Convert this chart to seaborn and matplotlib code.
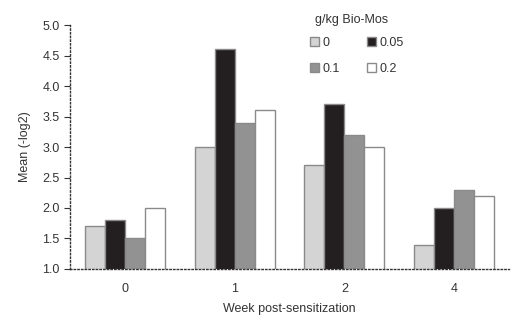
import matplotlib
matplotlib.use("Agg")
import matplotlib.pyplot as plt
import seaborn as sns
import pandas as pd

weeks = ["0", "1", "2", "4"]
doses = ["0", "0.05", "0.1", "0.2"]
vals_0 = [1.7, 3.0, 2.7, 1.4]
vals_005 = [1.8, 4.6, 3.7, 2.0]
vals_01 = [1.5, 3.4, 3.2, 2.3]
vals_02 = [2.0, 3.6, 3.0, 2.2]
colors = ["#d4d4d4", "#231f20", "#929292", "#ffffff"]

rows = []
for d, vs in zip(doses, [vals_0, vals_005, vals_01, vals_02]):
    for w, v in zip(weeks, vs):
        rows.append({"week": w, "dose": d, "value": v})
df = pd.DataFrame(rows)

sns.set_style("white")
plt.rcParams['font.family'] = ['Liberation Sans', 'DejaVu Sans']

fig = plt.figure(figsize=(5.2, 3.26), dpi=100)
ax = fig.add_axes([0.1346, 0.175, 0.8444, 0.748])
sns.barplot(data=df, x="week", y="value", hue="dose", hue_order=doses,
            palette=colors, width=0.73, edgecolor="#8a8a8a", linewidth=1.0,
            ax=ax, legend=True, saturation=1)

ax.set_ylim(1.0, 5.0)
ax.set_xlim(-0.5, 3.5)
ax.set_yticks([1.0, 1.5, 2.0, 2.5, 3.0, 3.5, 4.0, 4.5, 5.0])
ax.set_yticklabels([f"{t:.1f}" for t in [1.0, 1.5, 2.0, 2.5, 3.0, 3.5, 4.0, 4.5, 5.0]])
ax.set_xticks(range(4))
ax.set_xticklabels(weeks)
ax.set_xticks([-0.5, 0.5, 1.5, 2.5, 3.5], minor=True)
ax.tick_params(axis="x", which="major", length=0, pad=10, labelsize=9, colors="#333333")
ax.tick_params(axis="x", which="minor", length=4, width=0.8, direction="out", color="#333333")
ax.tick_params(axis="y", length=4, width=0.8, direction="out", labelsize=9, colors="#333333", left=True)
for s in ["top", "right"]:
    ax.spines[s].set_visible(False)
for s in ["left", "bottom"]:
    ax.spines[s].set_color("#333333")
    ax.spines[s].set_linewidth(1.0)
    ax.spines[s].set_linestyle(":")
ax.set_xlabel("Week post-sensitization", fontsize=9, color="#333333", labelpad=6)
ax.set_ylabel("Mean (-log2)", fontsize=9, color="#333333", labelpad=8)

handles, labels = ax.get_legend_handles_labels()
order = [0, 2, 1, 3]
ax.legend([handles[i] for i in order], [labels[i] for i in order],
          ncol=2, frameon=False, loc="upper left",
          bbox_to_anchor=(0.521, 0.997), fontsize=9,
          handlelength=0.7, handleheight=0.7, handletextpad=0.3,
          columnspacing=2.2, labelspacing=1.12)
leg = ax.get_legend()
for t in leg.get_texts():
    t.set_color("#333333")
ax.text(0.642, 1.02, "g/kg Bio-Mos", transform=ax.transAxes, ha="center",
        va="center", fontsize=9, color="#333333")

fig.savefig("out.png", dpi=100)
